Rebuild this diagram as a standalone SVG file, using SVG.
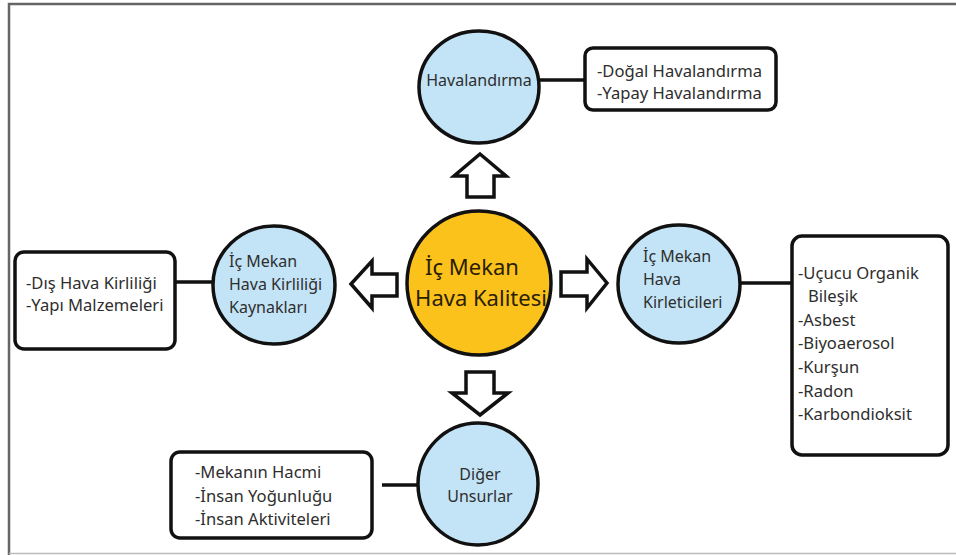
<svg xmlns="http://www.w3.org/2000/svg" width="956" height="555" viewBox="0 0 956 555">
<style>
.bg{fill:#fff}
.frame{fill:none;stroke:#666;stroke-width:2.5}
.blue{fill:#C3E4F6;stroke:#111;stroke-width:3.5}
.yellow{fill:#FBC21C;stroke:#111;stroke-width:3.5}
.box{fill:#fff;stroke:#111;stroke-width:3.5}
.line{stroke:#111;stroke-width:3.5;fill:none}
.arrow{fill:#fff;stroke:#111;stroke-width:3.5;stroke-linejoin:miter}
text{font-family:"Noto Sans","Open Sans","DejaVu Sans",sans-serif;fill:#2e2e2e;font-size:16px}
.b{font-size:16.6px}
.c{font-size:22px;fill:#2a2000}
.m{text-anchor:middle}
</style>
<rect class="bg" x="0" y="0" width="956" height="555"/>
<path class="frame" d="M9 560 V4 H960"/>
<line x1="9" y1="553.5" x2="956" y2="553.5" stroke="#bbb" stroke-width="1.5"/>

<g id="connectors">
<line class="line" x1="540" y1="80" x2="585" y2="80"/>
<line class="line" x1="175" y1="282" x2="214" y2="282"/>
<line class="line" x1="740" y1="283" x2="792" y2="283"/>
<line class="line" x1="382" y1="485" x2="419" y2="485"/>
<polygon class="arrow" points="480,154 506,176 494,176 494,197 467,197 467,176 454,176"/>
<polygon class="arrow" points="480,415 508,393 494,393 494,372 466,372 466,393 452,393"/>
<polygon class="arrow" points="351,284 372,261 372,274 397,274 397,296 372,296 372,308"/>
<polygon class="arrow" points="607,283 587,259 587,272 561,272 561,296 587,296 587,308"/>
</g>

<g id="center">
<circle class="yellow" cx="479" cy="283" r="72"/>
<text class="c" x="472" y="275" text-anchor="middle">İç Mekan</text>
<text class="c" x="481" y="306" text-anchor="middle">Hava Kalitesi</text>
</g>

<g id="havalandirma">
<ellipse class="blue" cx="479" cy="87" rx="60" ry="56"/>
<text class="m" x="479" y="86">Havalandırma</text>
</g>
<g id="havalandirma-box">
<rect class="box" x="585" y="48" width="191" height="62" rx="8"/>
<text class="b" x="597" y="77">-Doğal Havalandırma</text>
<text class="b" x="597" y="99">-Yapay Havalandırma</text>
</g>

<g id="kaynaklar">
<ellipse class="blue" cx="274" cy="285" rx="61" ry="59"/>
<text x="229" y="267">İç Mekan</text>
<text x="229" y="290">Hava Kirliliği</text>
<text x="229" y="313">Kaynakları</text>
</g>
<g id="kaynaklar-box">
<rect class="box" x="15" y="252" width="160" height="97" rx="9"/>
<text class="b" x="26" y="289">-Dış Hava Kirliliği</text>
<text class="b" x="26" y="311">-Yapı Malzemeleri</text>
</g>

<g id="kirleticiler">
<ellipse class="blue" cx="679" cy="284" rx="61" ry="59"/>
<text x="643" y="262">İç Mekan</text>
<text x="643" y="285">Hava</text>
<text x="643" y="308">Kirleticileri</text>
</g>
<g id="kirleticiler-box">
<rect class="box" x="792" y="236" width="156" height="219" rx="10"/>
<text class="b" x="798" y="279">-Uçucu Organik</text>
<text class="b" x="808" y="302">Bileşik</text>
<text class="b" x="798" y="326">-Asbest</text>
<text class="b" x="798" y="349">-Biyoaerosol</text>
<text class="b" x="798" y="373">-Kurşun</text>
<text class="b" x="798" y="397">-Radon</text>
<text class="b" x="798" y="420">-Karbondioksit</text>
</g>

<g id="diger">
<ellipse class="blue" cx="478" cy="484" rx="60" ry="61"/>
<text class="m" x="480" y="480">Diğer</text>
<text class="m" x="480" y="502">Unsurlar</text>
</g>
<g id="diger-box">
<rect class="box" x="171" y="452" width="201" height="86" rx="9"/>
<text class="b" x="195" y="478">-Mekanın Hacmi</text>
<text class="b" x="195" y="502">-İnsan Yoğunluğu</text>
<text class="b" x="195" y="525">-İnsan Aktiviteleri</text>
</g>
</svg>
